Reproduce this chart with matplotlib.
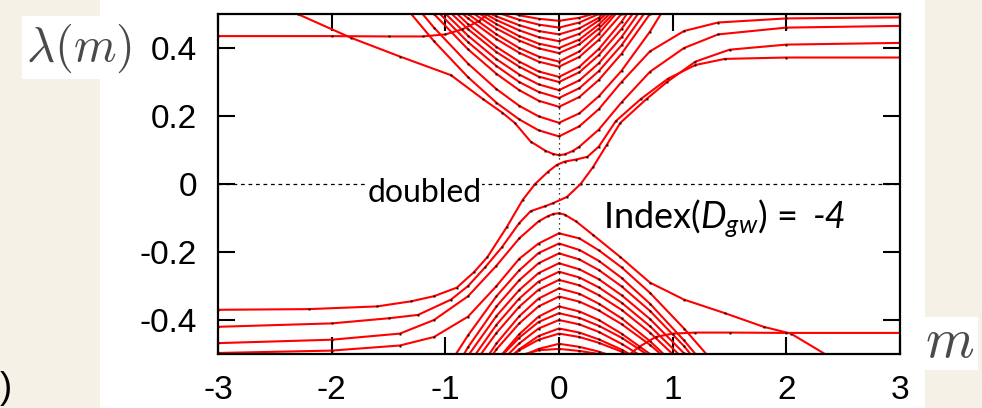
import numpy as np
import matplotlib.pyplot as plt
from matplotlib.patches import Rectangle

plt.rcParams['font.family'] = ['Liberation Sans', 'DejaVu Sans']
plt.rcParams['axes.unicode_minus'] = False
plt.rcParams['mathtext.fontset'] = 'custom'
plt.rcParams['mathtext.rm'] = 'Lato'
plt.rcParams['mathtext.it'] = 'Lato:italic'

BEIGE = '#f5f1e7'
RED = '#ff0000'

# common m grid for the bulk of the spectrum
m_band = [-1.4, -1.1, -0.8, -0.55, -0.35, -0.18, 0.0, 0.18, 0.35, 0.55, 0.8, 1.1, 1.4]

upper_bands = [
    [0.58, 0.46, 0.354, 0.279, 0.23, 0.199, 0.18, 0.208, 0.258, 0.333, 0.448, 0.61, 0.8],
    [0.62, 0.50, 0.396, 0.324, 0.276, 0.245, 0.227, 0.256, 0.306, 0.383, 0.50, 0.67, 0.8],
    [0.633, 0.518, 0.417, 0.347, 0.30, 0.271, 0.253, 0.282, 0.332, 0.408, 0.525, 0.70, 0.8],
    [0.65, 0.534, 0.436, 0.367, 0.322, 0.293, 0.276, 0.305, 0.355, 0.432, 0.55, 0.75, 0.8],
    [0.66, 0.55, 0.455, 0.388, 0.345, 0.316, 0.30, 0.329, 0.379, 0.456, 0.57, 0.80, 0.8],
    [0.68, 0.565, 0.47, 0.403, 0.36, 0.331, 0.315, 0.345, 0.397, 0.477, 0.60, 0.80, 0.8],
    [0.70, 0.573, 0.487, 0.426, 0.386, 0.36, 0.345, 0.374, 0.424, 0.50, 0.62, 0.80, 0.8],
    [0.70, 0.586, 0.50, 0.44, 0.40, 0.375, 0.36, 0.39, 0.442, 0.52, 0.65, 0.80, 0.8],
    [0.70, 0.60, 0.512, 0.457, 0.422, 0.399, 0.385, 0.411, 0.457, 0.526, 0.65, 0.80, 0.8],
    [0.70, 0.62, 0.522, 0.47, 0.435, 0.413, 0.40, 0.425, 0.469, 0.535, 0.65, 0.80, 0.8],
    [0.70, 0.62, 0.529, 0.482, 0.452, 0.432, 0.42, 0.442, 0.481, 0.54, 0.65, 0.80, 0.8],
    [0.70, 0.62, 0.53, 0.493, 0.467, 0.45, 0.44, 0.458, 0.489, 0.55, 0.65, 0.80, 0.8],
    [0.70, 0.62, 0.55, 0.505, 0.483, 0.469, 0.46, 0.475, 0.50, 0.55, 0.65, 0.80, 0.8],
    [0.70, 0.62, 0.55, 0.52, 0.496, 0.486, 0.48, 0.489, 0.505, 0.55, 0.65, 0.80, 0.8],
]

lower_bands = [
    [-0.8, -0.6, -0.445, -0.33, -0.254, -0.203, -0.175, -0.194, -0.226, -0.276, -0.352, -0.46, -0.58],
    [-0.8, -0.65, -0.48, -0.36, -0.283, -0.233, -0.204, -0.222, -0.253, -0.301, -0.373, -0.477, -0.6],
    [-0.8, -0.68, -0.505, -0.388, -0.312, -0.262, -0.233, -0.251, -0.28, -0.327, -0.397, -0.498, -0.613],
    [-0.8, -0.73, -0.532, -0.414, -0.337, -0.287, -0.258, -0.275, -0.304, -0.349, -0.418, -0.516, -0.632],
    [-0.8, -0.78, -0.552, -0.438, -0.361, -0.311, -0.282, -0.298, -0.327, -0.37, -0.437, -0.532, -0.642],
    [-0.8, -0.8, -0.592, -0.469, -0.389, -0.337, -0.307, -0.323, -0.352, -0.395, -0.462, -0.557, -0.672],
    [-0.8, -0.8, -0.606, -0.486, -0.41, -0.36, -0.331, -0.346, -0.372, -0.412, -0.473, -0.559, -0.686],
    [-0.8, -0.8, -0.65, -0.52, -0.442, -0.39, -0.36, -0.375, -0.40, -0.44, -0.50, -0.586, -0.70],
    [-0.8, -0.8, -0.645, -0.521, -0.452, -0.406, -0.38, -0.394, -0.417, -0.452, -0.507, -0.595, -0.695],
    [-0.8, -0.8, -0.65, -0.535, -0.469, -0.425, -0.40, -0.413, -0.435, -0.47, -0.522, -0.62, -0.70],
    [-0.8, -0.8, -0.655, -0.545, -0.486, -0.447, -0.425, -0.437, -0.457, -0.487, -0.534, -0.625, -0.705],
    [-0.8, -0.8, -0.65, -0.55, -0.489, -0.458, -0.44, -0.45, -0.467, -0.493, -0.53, -0.62, -0.70],
    [-0.8, -0.8, -0.66, -0.56, -0.51, -0.485, -0.47, -0.479, -0.493, -0.515, -0.56, -0.63, -0.71],
    [-0.8, -0.8, -0.65, -0.55, -0.505, -0.489, -0.485, -0.491, -0.50, -0.52, -0.55, -0.62, -0.70],
]

# the two (doubled) crossing modes
m_flow1 = [-3, -2.2, -1.6, -1.3, -1.1, -0.9, -0.75, -0.63, -0.46, -0.32, -0.21, -0.1, -0.02,
           0.05, 0.15, 0.25, 0.35, 0.5, 0.72, 0.96, 1.2, 1.46, 2.0, 3.0]
lam_flow1 = [-0.37, -0.368, -0.36, -0.345, -0.33, -0.305, -0.26, -0.215, -0.127, -0.047, 0.0, 0.035, 0.056,
             0.066, 0.072, 0.08, 0.11, 0.185, 0.25, 0.31, 0.35, 0.368, 0.372, 0.372]
m_flow2 = [-3, -2.0, -1.5, -1.24, -0.95, -0.8, -0.65, -0.5, -0.35, -0.25, -0.12, -0.05, 0.07,
           0.19, 0.3, 0.42, 0.54, 0.77, 0.95, 1.2, 1.5, 2.0, 3.0]
lam_flow2 = [-0.42, -0.41, -0.395, -0.385, -0.34, -0.3, -0.245, -0.185, -0.115, -0.08, -0.065, -0.056, -0.038,
             0.0, 0.05, 0.115, 0.18, 0.25, 0.3, 0.36, 0.395, 0.41, 0.415]

# lowest positive / highest negative modes
m_up0 = [-2.6, -2.3, -1.83, -1.4, -0.95, -0.67, -0.5, -0.39, -0.25, -0.12, -0.05, 0, 0.05, 0.12, 0.18,
         0.35, 0.55, 0.8, 1.1, 1.4, 2.0, 3.0]
lam_up0 = [0.53, 0.5, 0.43, 0.375, 0.32, 0.25, 0.21, 0.18, 0.125, 0.098, 0.088, 0.085, 0.087, 0.097, 0.11,
           0.16, 0.24, 0.33, 0.40, 0.44, 0.46, 0.465]
m_lo0 = [-3, -2.0, -1.4, -1.1, -0.8, -0.55, -0.35, -0.18, -0.1, -0.05, 0, 0.05, 0.15, 0.3, 0.54, 0.8,
         1.1, 1.46, 1.8, 2.04, 2.34, 2.6]
lam_lo0 = [-0.468, -0.458, -0.44, -0.40, -0.33, -0.24, -0.16, -0.11, -0.095, -0.088, -0.086, -0.09,
           -0.11, -0.15, -0.215, -0.29, -0.34, -0.38, -0.42, -0.44, -0.5, -0.53]

m_up1 = [-1.4, -1.1, -0.8, -0.55, -0.35, -0.18, 0, 0.18, 0.35, 0.55, 0.8, 1.1, 1.4, 2.0, 3.0]
lam_up1 = [0.54, 0.42, 0.314, 0.239, 0.19, 0.158, 0.14, 0.17, 0.22, 0.30, 0.39, 0.45, 0.475, 0.487, 0.49]
m_lo1 = [-3.0, -2.0, -1.4, -1.1, -0.8, -0.55, -0.35, -0.18, 0, 0.18, 0.35, 0.55, 0.8, 1.1, 1.4]
lam_lo1 = [-0.497, -0.49, -0.475, -0.45, -0.39, -0.30, -0.22, -0.175, -0.145, -0.16, -0.195, -0.245,
           -0.32, -0.425, -0.54]

# flat branches at the edges
m_edge_up = [-3.0, -2.0, -1.5, -1.2, -1.0, -0.85, -0.7, -0.55]
lam_edge_up = [0.435, 0.435, 0.434, 0.434, 0.44, 0.455, 0.48, 0.52]
m_edge_lo = [0.55, 0.7, 0.85, 1.0, 1.2, 1.5, 2.0, 3.0]
lam_edge_lo = [-0.52, -0.48, -0.45, -0.44, -0.437, -0.437, -0.438, -0.438]

x_ticks = [-3, -2, -1, 0, 1, 2, 3]
x_tick_labels = ['-3', '-2', '-1', '0', '1', '2', '3']
y_ticks = [-0.4, -0.2, 0, 0.2, 0.4]
y_tick_labels = ['-0.4', '-0.2', '0', '0.2', '0.4']

fig = plt.figure(figsize=(9.82, 4.08), dpi=100, facecolor=BEIGE)
fig.add_artist(Rectangle((100/982, 0), 825/982, 1, transform=fig.transFigure,
                         facecolor='white', edgecolor='none', zorder=-5))
ax = fig.add_axes([218/982, 54/408, 682/982, 340/408])

style = dict(color=RED, lw=1.5, marker='s', ms=1.4, mfc='k', mec='none', zorder=3)

for lam in upper_bands:
    ax.plot(m_band, lam, **style)
for lam in lower_bands:
    ax.plot(m_band, lam, **style)
for m, lam in [(m_flow1, lam_flow1), (m_flow2, lam_flow2), (m_up0, lam_up0), (m_lo0, lam_lo0),
               (m_up1, lam_up1), (m_lo1, lam_lo1), (m_edge_up, lam_edge_up), (m_edge_lo, lam_edge_lo)]:
    ax.plot(m, lam, **style)

ax.axhline(0, color='k', lw=0.9, ls=(0, (3, 3)), zorder=2)
ax.axvline(0, color='k', lw=0.9, ls=(0, (1, 3)), zorder=2)

ax.set_xlim(-3, 3)
ax.set_ylim(-0.5, 0.5)
ax.set_xticks(x_ticks)
ax.set_xticklabels(x_tick_labels)
ax.set_yticks(y_ticks)
ax.set_yticklabels(y_tick_labels)
ax.tick_params(direction='in', length=12, width=1.5, top=True, right=True,
               labelsize=24, pad=15)
for sp in ax.spines.values():
    sp.set_linewidth(1.6)
    sp.set_zorder(5)

ax.text(-1.68, -0.053, 'doubled', family='Lato', fontsize=23, va='baseline', ha='left',
        bbox=dict(facecolor='white', edgecolor='none', pad=0), zorder=4)
ax.text(0.387, -0.129, r'Index($D_{gw}$) =', family='Lato', fontsize=26,
        va='baseline', ha='left', zorder=4)
ax.text(2.23, -0.129, '-4', family='Lato', style='italic', fontsize=26,
        va='baseline', ha='left', zorder=4)

# axis symbols on white patches
fig.add_artist(Rectangle((22/982, (408-79)/408), 115/982, 63/408, transform=fig.transFigure,
                         facecolor='white', edgecolor='none', zorder=-4))
fig.text(79/982, (408-48)/408, r'$\lambda(m)$', math_fontfamily='cm', fontsize=35,
         color='#4a4a4a', ha='center', va='center')
fig.add_artist(Rectangle((924/982, (408-370)/408), 54/982, 53/408, transform=fig.transFigure,
                         facecolor='white', edgecolor='none', zorder=-4))
fig.text(950/982, (408-343)/408, r'$m$', math_fontfamily='cm', fontsize=40,
         color='#4a4a4a', ha='center', va='center')
fig.text(12/982, (408-388)/408, ')', fontsize=26, ha='right', va='center', color='k')

fig.savefig('out.png', dpi=100, facecolor=BEIGE)
